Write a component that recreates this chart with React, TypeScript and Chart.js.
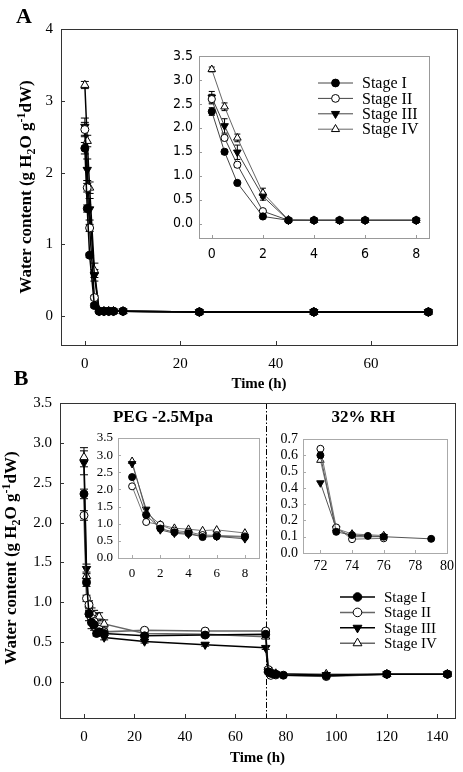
import React, { useEffect, useRef } from 'react';
import { Chart, registerables } from 'chart.js';
import { drawPoint } from 'chart.js/helpers';

Chart.register(...registerables);

const W = 463;
const H = 772;

const stageNames = ['Stage I', 'Stage II', 'Stage III', 'Stage IV'];

// ---------- Panel A (drying) ----------
const hoursA = [0, 0.5, 1, 2, 3, 4, 5, 6, 8, 24, 48, 72];
const waterA1 = [2.34, 1.5, 0.85, 0.15, 0.07, 0.07, 0.07, 0.07, 0.07, 0.06, 0.06, 0.06];
const waterA2 = [2.6, 1.79, 1.23, 0.26, 0.07, 0.07, 0.07, 0.07, 0.07, 0.06, 0.06, 0.06];
const waterA3 = [2.64, 2.04, 1.49, 0.57, 0.07, 0.07, 0.07, 0.07, 0.07, 0.06, 0.06, 0.06];
const waterA4 = [3.22, 2.44, 1.79, 0.64, 0.08, 0.07, 0.07, 0.07, 0.07, 0.06, 0.06, 0.06];
const errA1 = [0.08, 0.05, 0.03, 0.03, 0, 0, 0, 0, 0, 0, 0, 0];
const errA2 = [0.1, 0.06, 0.05, 0.03, 0, 0, 0, 0, 0, 0, 0, 0];
const errA3 = [0.12, 0.15, 0.15, 0.08, 0, 0, 0, 0, 0, 0, 0, 0];
const errA4 = [0.05, 0.08, 0.08, 0.1, 0, 0, 0, 0, 0, 0, 0, 0];

// ---------- Panel B (PEG then 32% RH) ----------
const hoursB = [0, 1, 2, 3, 4, 5, 6, 8, 24, 48, 72, 73, 74, 75, 76, 79, 96, 120, 144];
const waterB1 = [2.36, 1.25, 0.86, 0.75, 0.72, 0.61, 0.63, 0.61, 0.58, 0.59, 0.6, 0.13, 0.11, 0.105, 0.1, 0.087, 0.08, 0.1, 0.1];
const waterB2 = [2.09, 1.05, 0.97, 0.8, 0.76, 0.67, 0.66, 0.63, 0.65, 0.64, 0.64, 0.157, 0.085, null, 0.09, null, 0.07, 0.1, 0.1];
const waterB3 = [2.75, 1.42, 0.82, 0.72, 0.69, 0.65, 0.63, 0.56, 0.51, 0.47, 0.43, 0.15, 0.1, null, 0.1, null, 0.09, 0.1, 0.1];
const waterB4 = [2.82, 1.33, 0.97, 0.87, 0.84, 0.8, 0.82, 0.73, 0.61, 0.6, 0.57, 0.15, 0.117, null, 0.107, null, 0.1, 0.1, 0.1];
const errB1 = [0.06, 0.05, 0.04, 0.03, 0.03, 0.03, 0.02, 0.02, 0.02, 0.02, 0.02, 0.01, 0, 0, 0, 0, 0, 0, 0];
const errB2 = [0.06, 0.04, 0.03, 0.03, 0.03, 0.02, 0.02, 0.02, 0.02, 0.02, 0.02, 0.01, 0, 0, 0, 0, 0, 0, 0];
const errB3 = [0.15, 0.06, 0.05, 0.05, 0.04, 0.04, 0.03, 0.03, 0.02, 0.02, 0.02, 0.01, 0, 0, 0, 0, 0, 0, 0];
const errB4 = [0.12, 0.05, 0.05, 0.06, 0.06, 0.06, 0.05, 0.05, 0.02, 0.02, 0.02, 0.01, 0, 0, 0, 0, 0, 0, 0];

// ---------- Tick labels ----------
const ticksAx = [0, 20, 40, 60];
const ticksAy = [0, 1, 2, 3, 4];
const ticksAInsetX = [0, 2, 4, 6, 8];
const ticksAInsetY = [0, 0.5, 1, 1.5, 2, 2.5, 3, 3.5];
const ticksBx = [0, 20, 40, 60, 80, 100, 120, 140];
const ticksBy = [0, 0.5, 1, 1.5, 2, 2.5, 3, 3.5];
const ticksB1x = [0, 2, 4, 6, 8];
const ticksB1y = [0, 0.5, 1, 1.5, 2, 2.5, 3, 3.5];
const ticksB2x = [72, 74, 76, 78, 80];
const ticksB2y = [0, 0.1, 0.2, 0.3, 0.4, 0.5, 0.6, 0.7];

const SERIF = "'Liberation Serif', 'Times New Roman', serif";
const SANS = "'DejaVu Sans Condensed', 'DejaVu Sans', sans-serif";

const MARKS = [
  { style: 'circle', fill: '#000', rot: 0 },
  { style: 'circle', fill: '#fff', rot: 0 },
  { style: 'triangle', fill: '#000', rot: 180 },
  { style: 'triangle', fill: '#fff', rot: 0 },
];

type SeriesStyle = {
  colors: string[];
  lw: number;
  r: number;
  tr: number;
  pbw: number;
  xmin: number;
  xmax: number;
};

function buildDatasets(times: number[], all: (number | null)[][], errs: number[][] | null, st: SeriesStyle) {
  return all.map((vals, i) => {
    const pts: { x: number; y: number }[] = [];
    const e: number[] = [];
    times.forEach((t, k) => {
      const v = vals[k];
      if (v == null || t < st.xmin || t > st.xmax) return;
      pts.push({ x: t, y: v });
      e.push(errs ? errs[i][k] || 0 : 0);
    });
    const m = MARKS[i];
    return {
      label: stageNames[i],
      data: pts,
      errorBars: e,
      borderColor: st.colors[i],
      borderWidth: st.lw,
      pointStyle: m.style,
      pointRotation: m.rot,
      pointRadius: m.style === 'triangle' ? st.tr : st.r,
      pointBackgroundColor: m.fill,
      pointBorderColor: '#000',
      pointBorderWidth: st.pbw,
      tension: 0,
      fill: false,
    };
  });
}

type Decor = {
  bg?: string;
  frame: string;
  frameW: number;
  tickLen: number;
  errCap?: number;
  vline?: number;
  texts?: { text: string; x: number; y: number; size: number }[];
  legend?: { x: number; y: number; dy: number; len: number; textX: number; size: number };
  yTitle?: { cx: number; cy: number; size: number };
  letter?: { text: string; x: number; y: number; size: number };
};

function drawYTitle(ctx: CanvasRenderingContext2D, cx: number, cy: number, size: number) {
  const parts: [string, number][] = [
    ['Water content (g H', 0],
    ['2', 1],
    ['O g', 0],
    ['-1', -1],
    ['dW)', 0],
  ];
  const big = `bold ${size}px ${SERIF}`;
  const small = `bold ${Math.round(size * 0.7)}px ${SERIF}`;
  ctx.save();
  ctx.translate(cx, cy);
  ctx.rotate(-Math.PI / 2);
  ctx.fillStyle = '#000';
  ctx.textBaseline = 'middle';
  ctx.textAlign = 'left';
  let total = 0;
  parts.forEach(([t, k]) => {
    ctx.font = k === 0 ? big : small;
    total += ctx.measureText(t).width;
  });
  let x = -total / 2;
  parts.forEach(([t, k]) => {
    ctx.font = k === 0 ? big : small;
    const dy = k === 1 ? size * 0.3 : k === -1 ? -size * 0.32 : 0;
    ctx.fillText(t, x, dy);
    x += ctx.measureText(t).width;
  });
  ctx.restore();
}

function makeDecor(d: Decor) {
  return {
    id: 'decor',
    beforeDraw(chart: any) {
      if (!d.bg) return;
      const { ctx, chartArea: a } = chart;
      ctx.save();
      ctx.fillStyle = d.bg;
      ctx.fillRect(a.left, a.top, a.right - a.left, a.bottom - a.top);
      ctx.restore();
    },
    beforeDatasetsDraw(chart: any) {
      const { ctx, chartArea: a, scales } = chart;
      ctx.save();
      if (d.vline != null) {
        const px = Math.round(scales.x.getPixelForValue(d.vline)) + 0.5;
        ctx.strokeStyle = '#000';
        ctx.lineWidth = 1;
        ctx.setLineDash([6, 2, 1.5, 2]);
        ctx.beginPath();
        ctx.moveTo(px, a.top);
        ctx.lineTo(px, a.bottom);
        ctx.stroke();
        ctx.setLineDash([]);
      }
      if (d.errCap) {
        const cap = d.errCap;
        ctx.strokeStyle = '#000';
        ctx.lineWidth = 1;
        chart.data.datasets.forEach((ds: any, i: number) => {
          const meta = chart.getDatasetMeta(i);
          meta.data.forEach((pt: any, k: number) => {
            const e = ds.errorBars ? ds.errorBars[k] : 0;
            if (!e) return;
            const v = ds.data[k].y;
            const y1 = scales.y.getPixelForValue(v + e);
            const y2 = scales.y.getPixelForValue(v - e);
            ctx.beginPath();
            ctx.moveTo(pt.x, y1);
            ctx.lineTo(pt.x, y2);
            ctx.moveTo(pt.x - cap, y1);
            ctx.lineTo(pt.x + cap, y1);
            ctx.moveTo(pt.x - cap, y2);
            ctx.lineTo(pt.x + cap, y2);
            ctx.stroke();
          });
        });
      }
      ctx.restore();
    },
    afterDraw(chart: any) {
      const { ctx, chartArea: a, scales } = chart;
      ctx.save();
      // frame
      ctx.strokeStyle = d.frame;
      ctx.lineWidth = d.frameW;
      ctx.strokeRect(a.left + 0.5, a.top + 0.5, a.right - a.left, a.bottom - a.top);
      // inward tick marks
      ctx.beginPath();
      scales.x.ticks.forEach((t: any) => {
        const px = Math.round(scales.x.getPixelForValue(t.value)) + 0.5;
        ctx.moveTo(px, a.bottom);
        ctx.lineTo(px, a.bottom - d.tickLen);
      });
      scales.y.ticks.forEach((t: any) => {
        const py = Math.round(scales.y.getPixelForValue(t.value)) + 0.5;
        ctx.moveTo(a.left, py);
        ctx.lineTo(a.left + d.tickLen, py);
      });
      ctx.lineWidth = 1;
      ctx.stroke();
      // annotation texts (data coordinates)
      if (d.texts) {
        d.texts.forEach((t) => {
          ctx.font = `bold ${t.size}px ${SERIF}`;
          ctx.fillStyle = '#000';
          ctx.textAlign = 'center';
          ctx.textBaseline = 'middle';
          ctx.fillText(t.text, scales.x.getPixelForValue(t.x), scales.y.getPixelForValue(t.y));
        });
      }
      // legend
      if (d.legend) {
        const L = d.legend;
        chart.data.datasets.forEach((ds: any, i: number) => {
          const yy = L.y + i * L.dy;
          ctx.strokeStyle = ds.borderColor;
          ctx.lineWidth = ds.borderWidth;
          ctx.beginPath();
          ctx.moveTo(L.x, yy);
          ctx.lineTo(L.x + L.len, yy);
          ctx.stroke();
          ctx.fillStyle = ds.pointBackgroundColor;
          ctx.strokeStyle = ds.pointBorderColor;
          ctx.lineWidth = ds.pointBorderWidth;
          drawPoint(
            ctx,
            { pointStyle: ds.pointStyle, rotation: ds.pointRotation, radius: ds.pointRadius + 0.3, borderWidth: ds.pointBorderWidth } as any,
            L.x + L.len / 2,
            yy
          );
          ctx.fillStyle = '#000';
          ctx.font = `${L.size}px ${SERIF}`;
          ctx.textAlign = 'left';
          ctx.textBaseline = 'middle';
          ctx.fillText(ds.label, L.textX, yy + 1);
        });
      }
      if (d.yTitle) drawYTitle(ctx, d.yTitle.cx, d.yTitle.cy, d.yTitle.size);
      if (d.letter) {
        ctx.font = `bold ${d.letter.size}px ${SERIF}`;
        ctx.fillStyle = '#000';
        ctx.textAlign = 'center';
        ctx.textBaseline = 'middle';
        ctx.fillText(d.letter.text, d.letter.x, d.letter.y);
      }
      ctx.restore();
    },
  };
}

type Spec = {
  area: { l: number; t: number; r: number; b: number };
  yW: number;
  xH: number;
  x: [number, number];
  y: [number, number];
  xTicks: number[];
  yTicks: number[];
  xDec: number;
  yDec: number;
  family: string;
  size: number;
  xPad: number;
  yPad: number;
  xTitle?: string;
  datasets: any[];
  decor: Decor;
};

function makeConfig(s: Spec): any {
  const tickFont = { family: s.family, size: s.size, lineHeight: 1.2 };
  return {
    type: 'line',
    data: { datasets: s.datasets },
    options: {
      animation: false,
      responsive: false,
      devicePixelRatio: 1,
      events: [],
      layout: {
        padding: {
          left: s.area.l - s.yW,
          top: s.area.t,
          right: W - s.area.r,
          bottom: H - s.area.b - s.xH,
        },
      },
      plugins: { legend: { display: false }, tooltip: { enabled: false } },
      scales: {
        x: {
          type: 'linear',
          min: s.x[0],
          max: s.x[1],
          afterBuildTicks: (sc: any) => {
            sc.ticks = s.xTicks.map((v) => ({ value: v }));
          },
          afterFit: (sc: any) => {
            sc.height = s.xH;
          },
          grid: { display: false, drawTicks: false },
          border: { display: false },
          ticks: {
            autoSkip: false,
            maxRotation: 0,
            padding: s.xPad,
            color: '#000',
            font: tickFont,
            callback: (v: any) => Number(v).toFixed(s.xDec),
          },
          title: s.xTitle
            ? { display: true, text: s.xTitle, color: '#000', font: { family: SERIF, size: 15, weight: 'bold', lineHeight: 1.2 }, padding: 0 }
            : { display: false },
        },
        y: {
          type: 'linear',
          min: s.y[0],
          max: s.y[1],
          afterBuildTicks: (sc: any) => {
            sc.ticks = s.yTicks.map((v) => ({ value: v }));
          },
          afterFit: (sc: any) => {
            sc.width = s.yW;
          },
          grid: { display: false, drawTicks: false },
          border: { display: false },
          ticks: {
            autoSkip: false,
            padding: s.yPad,
            color: '#000',
            font: tickFont,
            callback: (v: any) => Number(v).toFixed(s.yDec),
          },
          title: { display: false },
        },
      },
    },
    plugins: [makeDecor(s.decor)],
  };
}

// ---------- Chart specs ----------
const seriesA = [waterA1, waterA2, waterA3, waterA4];
const errsA = [errA1, errA2, errA3, errA4];
const seriesB = [waterB1, waterB2, waterB3, waterB4];
const errsB = [errB1, errB2, errB3, errB4];

const specMainA = (): Spec => ({
  area: { l: 61, t: 29, r: 457, b: 345 },
  yW: 61,
  xH: 48,
  x: [-5, 78],
  y: [-0.4, 4],
  xTicks: ticksAx,
  yTicks: ticksAy,
  xDec: 0,
  yDec: 0,
  family: SERIF,
  size: 15,
  xPad: 10,
  yPad: 8,
  xTitle: 'Time (h)',
  datasets: buildDatasets(hoursA, seriesA, errsA, {
    colors: ['#000', '#000', '#000', '#000'],
    lw: 1.5,
    r: 4,
    tr: 4.8,
    pbw: 1,
    xmin: -99,
    xmax: 999,
  }),
  decor: {
    frame: '#333',
    frameW: 1,
    tickLen: 4,
    errCap: 4,
    yTitle: { cx: 27, cy: 187, size: 17 },
    letter: { text: 'A', x: 24, y: 17, size: 22 },
  },
});

const specInsetA = (): Spec => ({
  area: { l: 199, t: 56, r: 429, b: 238 },
  yW: 40,
  xH: 30,
  x: [-0.5, 8.5],
  y: [-0.3, 3.5],
  xTicks: ticksAInsetX,
  yTicks: ticksAInsetY,
  xDec: 0,
  yDec: 1,
  family: SANS,
  size: 14,
  xPad: 8,
  yPad: 6,
  datasets: buildDatasets(hoursA, seriesA, errsA, {
    colors: ['#444', '#444', '#444', '#666'],
    lw: 1,
    r: 3.6,
    tr: 4.4,
    pbw: 1,
    xmin: -1,
    xmax: 8.5,
  }),
  decor: {
    bg: '#fff',
    frame: '#999',
    frameW: 1,
    tickLen: 3,
    errCap: 3,
    legend: { x: 318, y: 83, dy: 15.4, len: 35, textX: 362, size: 16 },
  },
});

const specMainB = (): Spec => ({
  area: { l: 60, t: 403, r: 455, b: 718 },
  yW: 60,
  xH: 49,
  x: [-9.5, 147],
  y: [-0.45, 3.5],
  xTicks: ticksBx,
  yTicks: ticksBy,
  xDec: 0,
  yDec: 1,
  family: SERIF,
  size: 15,
  xPad: 10,
  yPad: 8,
  xTitle: 'Time (h)',
  datasets: buildDatasets(hoursB, seriesB, errsB, {
    colors: ['#000', '#666', '#000', '#666'],
    lw: 1.5,
    r: 4,
    tr: 4.8,
    pbw: 1,
    xmin: -99,
    xmax: 999,
  }),
  decor: {
    frame: '#333',
    frameW: 1,
    tickLen: 4,
    errCap: 4,
    vline: 72,
    texts: [
      { text: 'PEG -2.5Mpa', x: 31.3, y: 3.32, size: 17 },
      { text: '32% RH', x: 110.7, y: 3.32, size: 17 },
    ],
    legend: { x: 340, y: 597, dy: 15.4, len: 35, textX: 384, size: 15 },
    yTitle: { cx: 12, cy: 558, size: 17 },
    letter: { text: 'B', x: 21, y: 379, size: 22 },
  },
});

const specInsetB1 = (): Spec => ({
  area: { l: 118, t: 438, r: 259, b: 558 },
  yW: 40,
  xH: 30,
  x: [-1, 9],
  y: [0, 3.5],
  xTicks: ticksB1x,
  yTicks: ticksB1y,
  xDec: 0,
  yDec: 1,
  family: SERIF,
  size: 13,
  xPad: 8,
  yPad: 5,
  datasets: buildDatasets(hoursB, seriesB, null, {
    colors: ['#555', '#777', '#555', '#777'],
    lw: 1,
    r: 3.5,
    tr: 4.3,
    pbw: 1,
    xmin: -1,
    xmax: 9,
  }),
  decor: { bg: '#fff', frame: '#aaa', frameW: 1, tickLen: 3 },
});

const specInsetB2 = (): Spec => ({
  area: { l: 303, t: 439, r: 447, b: 553 },
  yW: 40,
  xH: 30,
  x: [70.9, 80],
  y: [0, 0.7],
  xTicks: ticksB2x,
  yTicks: ticksB2y,
  xDec: 0,
  yDec: 1,
  family: SERIF,
  size: 14,
  xPad: 5,
  yPad: 5,
  datasets: buildDatasets(hoursB, seriesB, null, {
    colors: ['#555', '#777', '#555', '#777'],
    lw: 1,
    r: 3.5,
    tr: 4.3,
    pbw: 1,
    xmin: 70,
    xmax: 80,
  }),
  decor: { bg: '#fff', frame: '#aaa', frameW: 1, tickLen: 3 },
});

function ChartLayer({ spec }: { spec: () => Spec }) {
  const ref = useRef<HTMLCanvasElement>(null);
  useEffect(() => {
    if (!ref.current) return;
    const chart = new Chart(ref.current, makeConfig(spec()));
    return () => chart.destroy();
  }, [spec]);
  return (
    <canvas
      ref={ref}
      width={W}
      height={H}
      style={{ position: 'absolute', left: 0, top: 0, width: W, height: H }}
    />
  );
}

export default function App() {
  return (
    <div style={{ position: 'absolute', left: 0, top: 0, width: W, height: H, background: '#fff', overflow: 'hidden' }}>
      <ChartLayer spec={specMainA} />
      <ChartLayer spec={specInsetA} />
      <ChartLayer spec={specMainB} />
      <ChartLayer spec={specInsetB1} />
      <ChartLayer spec={specInsetB2} />
    </div>
  );
}
